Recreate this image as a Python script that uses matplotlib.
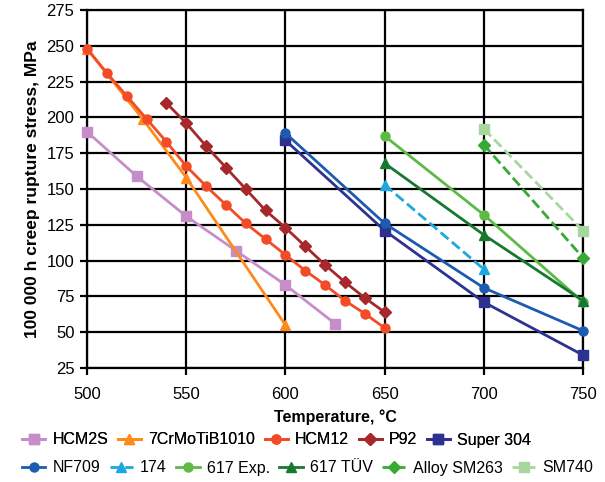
import matplotlib
matplotlib.use("Agg")
import matplotlib.pyplot as plt

plt.rcParams['font.family'] = ['Liberation Sans', 'DejaVu Sans']

# Data
hcm2s_t = [500, 525, 550, 575, 600, 625]
hcm2s_s = [190, 159, 131, 107, 83, 56]
cr7_t = [500, 528, 550, 600]
cr7_s = [248, 199, 158, 55]
hcm12_t = [500, 510, 520, 530, 540, 550, 560, 570, 580, 590, 600, 610, 620, 630, 640, 650]
hcm12_s = [248, 231, 215, 199, 183, 166, 152, 139, 126, 115, 104, 93, 83, 72, 63, 53]
p92_t = [540, 550, 560, 570, 580, 590, 600, 610, 620, 630, 640, 650]
p92_s = [210, 196, 180, 165, 150, 135, 123, 110, 97, 85, 74, 64]
s304_t = [600, 650, 700, 750]
s304_s = [184, 121, 71, 34]
nf709_t = [600, 650, 700, 750]
nf709_s = [189, 126, 81, 51]
a174_t = [650, 700]
a174_s = [153, 94]
exp617_t = [650, 700, 750]
exp617_s = [187, 132, 71]
tuv617_t = [650, 700, 750]
tuv617_s = [168, 118, 72]
sm263_t = [700, 750]
sm263_s = [181, 102]
sm740_t = [700, 750]
sm740_s = [192, 121]

xticks = [500, 550, 600, 650, 700, 750]
yticks = [25, 50, 75, 100, 125, 150, 175, 200, 225, 250, 275]

fig = plt.figure(figsize=(6.05, 4.82), dpi=100)
ax = fig.add_axes([87/605, 1-368/482, (583-87)/605, (368-10)/482])

series = [
    ("HCM2S", hcm2s_t, hcm2s_s, "#c68ec8", "s", "-"),
    ("7CrMoTiB1010", cr7_t, cr7_s, "#ff8a1c", "^", "-"),
    ("HCM12", hcm12_t, hcm12_s, "#f24c26", "o", "-"),
    ("P92", p92_t, p92_s, "#a7282a", "D", "-"),
    ("Super 304", s304_t, s304_s, "#2d3190", "s", "-"),
    ("NF709", nf709_t, nf709_s, "#1d5bb0", "o", "-"),
    ("174", a174_t, a174_s, "#1ca7e0", "^", "--"),
    ("617 Exp.", exp617_t, exp617_s, "#5dba45", "o", "-"),
    ("617 TÜV", tuv617_t, tuv617_s, "#17782f", "^", "-"),
    ("Alloy SM263", sm263_t, sm263_s, "#38a934", "D", "--"),
    ("SM740", sm740_t, sm740_s, "#a6d79d", "s", "--"),
]
handles = []
for name, t, s, c, m, ls in series:
    ms = 6.5 if m != "D" else 6
    h, = ax.plot(t, s, color=c, marker=m, linestyle=ls, lw=2.0, ms=ms,
                 markeredgecolor=c, label=name, zorder=3, clip_on=False)
    handles.append(h)

ax.set_xlim(500, 750)
ax.set_ylim(25, 275)
ax.set_xticks(xticks)
ax.set_yticks(yticks)
ax.grid(True, color="black", lw=1.6, zorder=0)
for sp in ax.spines.values():
    sp.set_linewidth(1.6)
ax.tick_params(axis='both', labelsize=12, length=5, width=1.6, direction='out')
ax.tick_params(axis='x', pad=9)
ax.tick_params(axis='y', pad=4)
ax.set_xlabel("Temperature, °C", fontsize=11.5, fontweight="bold", labelpad=5)
ax.set_ylabel("100 000 h creep rupture stress, MPa", fontsize=12.5, fontweight="bold", labelpad=5)

kw = dict(frameon=False, fontsize=11.5, handlelength=1.45, handletextpad=0.45,
          columnspacing=0.6, borderpad=0, borderaxespad=0)
leg1 = fig.legend(handles=handles[:5], loc="center left", bbox_to_anchor=(22/605, 1-440/482),
                  ncol=5, **kw)
leg2 = fig.legend(handles=handles[5:], loc="center left", bbox_to_anchor=(22/605, 1-468/482),
                  ncol=6, **kw)
fig.add_artist(leg1)

fig.savefig("out.png", dpi=100)
